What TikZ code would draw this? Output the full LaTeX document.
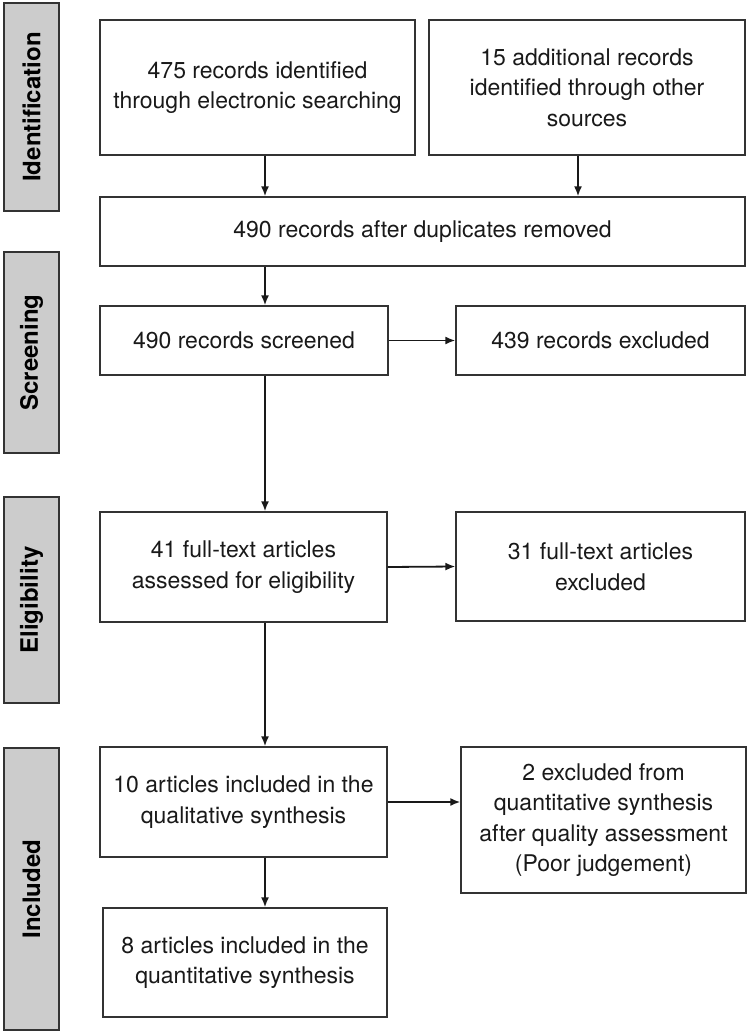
\documentclass[tikz,border=0pt]{standalone}
\usepackage{fontspec}
\setmainfont{TeX Gyre Heros}
\usetikzlibrary{arrows.meta}

\tikzset{
  box/.style={draw=black!80, line width=1.3pt, inner sep=0pt, align=center,
    font=\fontsize{23}{30.5}\selectfont, text=black!90},
  phase/.style={draw=black!80, fill=black!20, line width=1.3pt, inner sep=0pt,
    rotate=90, font=\bfseries\fontsize{24}{28}\selectfont},
  arr/.style={-{Latex[length=10pt,width=8pt]}, line width=1.8pt, black!90}
}

\begin{document}
\begin{tikzpicture}[x=1pt, y=-1pt]
			\useasboundingbox (0,0) rectangle (750,1035);
			% phase labels down the left side
			\node[phase, minimum width=208, minimum height=55] (ident) at (31.5,107) {Identification};
			\node[phase, minimum width=201, minimum height=55] (screen) at (31.5,352.5) {Screening};
			\node[phase, minimum width=206, minimum height=55] (elig) at (31.5,600) {Eligibility};
			\node[phase, minimum width=282, minimum height=55] (incl) at (31.5,889) {Included};
			% boxes
			\node[box, minimum width=315, minimum height=135] (search) at (257.5,87.5) {475 records identified\\through electronic searching};
			\node[box, minimum width=316, minimum height=135] (other) at (587,87.5) {15 additional records\\identified through other\\sources};
			\node[box, minimum width=645, minimum height=69] (dupl) at (422.5,231.5) {490 records after duplicates removed};
			\node[box, minimum width=288, minimum height=69] (screened) at (244,340.5) {490 records screened};
			\node[box, minimum width=289, minimum height=69] (recexcl) at (600.5,340.5) {439 records excluded};
			\node[box, minimum width=287, minimum height=110] (fulltext) at (243.5,567) {41 full-text articles\\assessed for eligibility};
			\node[box, minimum width=289, minimum height=109] (ftexcl) at (600.5,566.5) {31 full-text articles\\excluded};
			\node[box, minimum width=287, minimum height=110] (quali) at (243.5,802) {10 articles included in the\\qualitative synthesis};
			\node[box, minimum width=285, minimum height=146] (quantexcl) at (603.5,820) {2 excluded from\\quantitative synthesis\\after quality assessment\\(Poor judgement)};
			\node[box, minimum width=284, minimum height=109] (quanti) at (245,962.5) {8 articles included in the\\quantitative synthesis};
			% arrow lanes
			\coordinate (lane) at (265,0);
			\coordinate (lanetwo) at (578,0);
			\draw[arr] (search.south -| lane) -- (dupl.north -| lane);
			\draw[arr] (other.south -| lanetwo) -- (dupl.north -| lanetwo);
			\draw[arr] (dupl.south -| lane) -- (screened.north -| lane);
			\draw[arr] (screened.south -| lane) -- (fulltext.north -| lane);
			\draw[arr] (fulltext.south -| lane) -- (quali.north -| lane);
			\draw[arr] (quali.south -| lane) -- (quanti.north -| lane);
			\draw[arr] (screened.east) -- (recexcl.west);
			\draw[arr] (fulltext.east) -- (ftexcl.west);
			\draw[arr] (quali.east) -- (quali.east -| quantexcl.west);
		\end{tikzpicture}
\end{document}
